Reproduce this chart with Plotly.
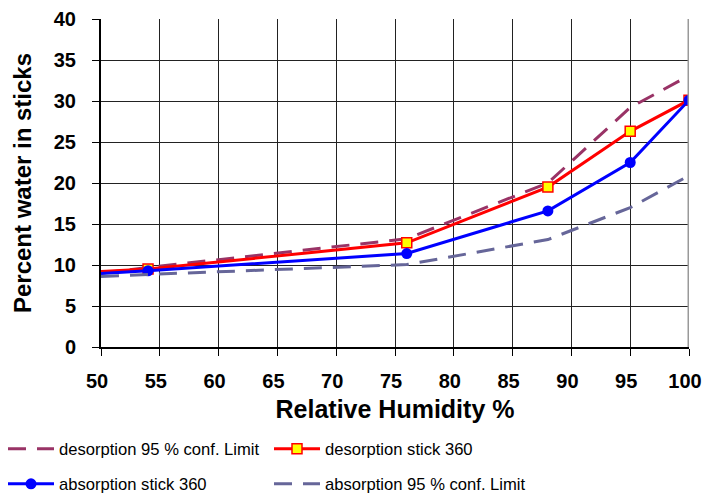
import plotly.graph_objects as go

rh = [50, 54, 76, 88, 95, 100]
desorption_conf = [9.0, 9.7, 13.2, 20.0, 29.2, 33.1]
desorption_stick = [9.2, 9.5, 12.7, 19.5, 26.3, 30.1]
absorption_stick = [8.95, 9.3, 11.4, 16.6, 22.5, 30.1]
absorption_conf = [8.6, 8.85, 10.05, 13.1, 17.0, 20.9]

x_ticks = [50, 55, 60, 65, 70, 75, 80, 85, 90, 95, 100]
y_ticks = [0, 5, 10, 15, 20, 25, 30, 35, 40]

fig = go.Figure()
fig.add_trace(go.Scatter(x=rh, y=desorption_conf, mode="lines",
                         name="desorption 95 % conf. Limit", legend="legend",
                         line=dict(color="#993366", width=3, dash="18px,11px")))
fig.add_trace(go.Scatter(x=rh, y=desorption_stick, mode="lines+markers",
                         name="desorption stick 360", legend="legend",
                         line=dict(color="#FF0000", width=3),
                         marker=dict(symbol="square", size=10, color="#FFFF00",
                                     line=dict(color="#FF0000", width=1.5)),
                         selectedpoints=[1, 2, 3, 4, 5],
                         unselected=dict(marker=dict(opacity=0))))
fig.add_trace(go.Scatter(x=rh, y=absorption_stick, mode="lines+markers",
                         name="absorption stick 360", legend="legend2",
                         line=dict(color="#0000FF", width=3),
                         marker=dict(symbol="circle", size=11, color="#0000FF"),
                         selectedpoints=[1, 2, 3, 4, 5],
                         unselected=dict(marker=dict(opacity=0))))
fig.add_trace(go.Scatter(x=rh, y=absorption_conf, mode="lines",
                         name="absorption 95 % conf. Limit", legend="legend2",
                         line=dict(color="#666699", width=3, dash="18px,11px")))

font_family = "Liberation Sans, Arial, sans-serif"
leg_common = dict(orientation="h", xref="container", yref="container",
                  xanchor="left", yanchor="middle",
                  entrywidth=205, entrywidthmode="pixels",
                  font=dict(size=16.6, family=font_family, color="black"),
                  itemwidth=46, bgcolor="rgba(0,0,0,0)")
fig.update_layout(
    width=720, height=499,
    margin=dict(l=101, r=31, t=19, b=152, autoexpand=False),
    paper_bgcolor="white", plot_bgcolor="white",
    font=dict(family=font_family, color="black"),
    xaxis=dict(range=[50, 100], tickvals=x_ticks, ticktext=[str(v) for v in x_ticks],
               showgrid=True, gridcolor="#222222", gridwidth=1,
               showline=True, linecolor="black", linewidth=2,
               ticks="outside", ticklen=7, tickcolor="black",
               ticklabelstandoff=8, ticklabelshift=-4, automargin=False,
               tickfont=dict(size=20, family=font_family, weight="bold"),
               title=dict(text="<b>Relative Humidity %</b>", font=dict(size=25), standoff=9),
               zeroline=False),
    yaxis=dict(range=[0, 40], tickvals=y_ticks, ticktext=[str(v) for v in y_ticks],
               showgrid=True, gridcolor="#222222", gridwidth=1,
               showline=True, linecolor="black", linewidth=2,
               ticks="outside", ticklen=7, tickcolor="black",
               ticklabelstandoff=12, automargin=False,
               tickfont=dict(size=20, family=font_family, weight="bold"),
               title=dict(text="<b>Percent water in sticks</b>", font=dict(size=24), standoff=15),
               zeroline=False),
    legend=dict(x=3 / 720, y=1 - 449 / 499, **leg_common),
    legend2=dict(x=3 / 720, y=1 - 484 / 499, **leg_common),
    showlegend=True,
)
fig.add_shape(type="line", xref="x", yref="paper", x0=100, x1=100, y0=0, y1=1,
              line=dict(color="#999999", width=3))
fig.write_html("out.html", config={"displayModeBar": False},
               post_script="document.body.style.margin='0';document.body.style.padding='0';"
                           "document.body.style.overflow='hidden';")
